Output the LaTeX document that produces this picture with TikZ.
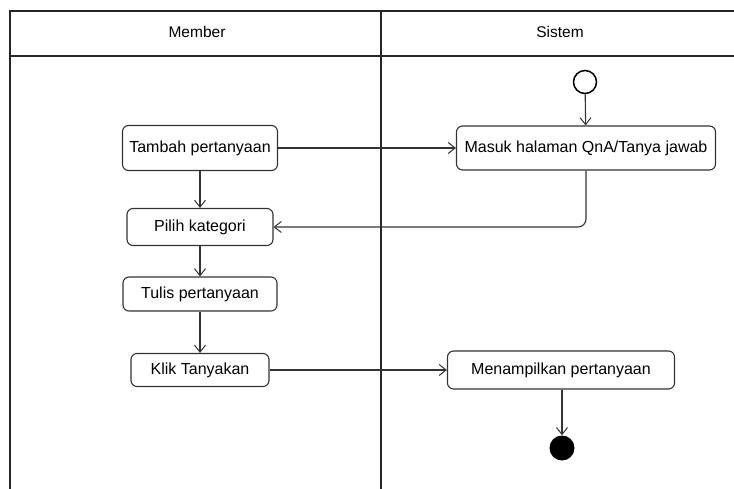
\documentclass[tikz,border=0pt]{standalone}
\usepackage{fontspec}
\setmainfont{Liberation Sans}
\usetikzlibrary{arrows.meta, positioning}
\definecolor{edgegray}{HTML}{333333}

\begin{document}
\begin{tikzpicture}[x=1pt, y=-1pt,
    action/.style={draw=edgegray, line width=1.1pt, rounded corners=6pt, fill=white, inner sep=0pt, minimum width=#1, font=\fontsize{16}{18}\selectfont},
    lanehead/.style={font=\fontsize{15.5}{18}\selectfont},
    lane/.style={line width=1.3pt, color=black!85},
    flow/.style={-{Straight Barb[length=7pt, width=11pt, line width=1pt]}, line width=1.1pt, color=edgegray},
    startnode/.style={circle, draw=black, line width=1.5pt, minimum size=23pt, inner sep=0pt},
    endnode/.style={circle, fill=black, minimum size=25pt, inner sep=0pt}
]
\useasboundingbox (0,0) rectangle (734,489);

% swimlanes
\draw[lane] (10,489) -- (10,11) -- (734,11);
\draw[lane] (10,56) -- (734,56);
\draw[lane] (381,11) -- (381,489);
\node[lanehead] (member) at (197,32) {Member};
\node[lanehead] (sistem) at (560,32) {Sistem};

% activities
\node[startnode] (start) at (585,82) {};
\node[action=155pt, minimum height=45pt] (tambah) at (200,148) {Tambah pertanyaan};
\node[action=259pt, minimum height=44pt] (masuk) at (586,148) {Masuk halaman QnA/Tanya jawab};
\node[action=146pt, minimum height=37pt] (pilih) at (200,227) {Pilih kategori};
\node[action=154pt, minimum height=34pt] (tulis) at (200,294) {Tulis pertanyaan};
\node[action=138pt, minimum height=33pt] (klik) at (200,370) {Klik Tanyakan};
\node[action=227pt, minimum height=38pt] (tampil) at (561,370) {Menampilkan pertanyaan};
\node[endnode] (finish) at (562,448) {};

\draw[flow] (start) -- (masuk);
\draw[flow] (tambah) -- (masuk);
\draw[flow] (tambah) -- (pilih);
\draw[flow, rounded corners=8pt] (masuk.south) |- (pilih.east);
\draw[flow] (pilih) -- (tulis);
\draw[flow] (tulis) -- (klik);
\draw[flow] (klik) -- (tampil);
\draw[flow] (tampil.south -| finish) -- (finish);
\end{tikzpicture}
\end{document}
